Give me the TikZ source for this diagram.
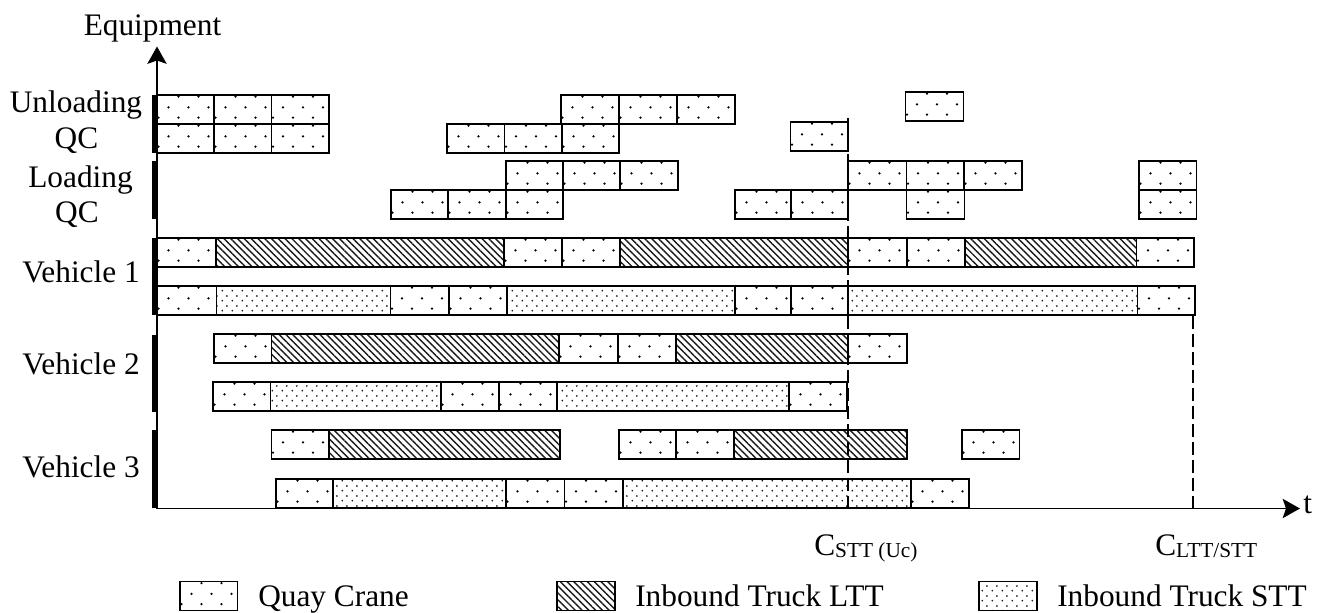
\documentclass[tikz,border=0pt]{standalone}
\usepackage{fontspec}
\setmainfont{Liberation Serif}
\usetikzlibrary{arrows.meta,patterns,patterns.meta}

% dense staggered dots for the short-term trucks
\tikzdeclarepattern{
  name=stt dots,
  type=uncolored,
  bottom left={(0pt,0pt)},
  top right={(7.5pt,7.5pt)},
  tile size={(7.5pt,7.5pt)},
  code={
    \fill (1.875pt,1.875pt) circle (0.75pt);
    \fill (5.625pt,5.625pt) circle (0.75pt);
  }
}

\tikzset{
  cellframe/.style={draw=black, line width=1.3pt},
  qcdot/.style={fill=black},
  lttcell/.style={cellframe, pattern={Lines[angle=-45,distance=3.6pt,line width=1.05pt]}, pattern color=black!90},
  sttcell/.style={cellframe, pattern=stt dots, pattern color=black!90},
  axisline/.style={line width=1pt, -{Stealth[length=13pt,width=14.5pt,inset=2.5pt]}},
  rowmark/.style={fill=black},
  cline/.style={line width=1.2pt, dash pattern=on 10pt off 3.5pt},
  lbl/.style={font=\fontsize{23.5}{28}\selectfont, inner sep=0pt},
}

% quay crane cell: x-left, x-right, y-top (sparse dot texture)
\newcommand\qcCell[3]{%
  \foreach \dx/\dy in {21.5/1.7,41.5/1.7,11.5/12.3,31.5/12.3,51.5/12.3,1.5/22.7,21.5/22.7,41.5/22.7}
    \fill[qcdot] ({#1+\dx},{#3+\dy}) circle (0.95pt);
  \draw[cellframe] (#1,#3) rectangle (#2,{#3+29});
}
% long-term truck bar and short-term truck bar
\newcommand\lttBar[3]{\draw[lttcell] (#1,#3) rectangle (#2,{#3+29});}
\newcommand\sttBar[3]{\draw[sttcell] (#1,#3) rectangle (#2,{#3+29});}

\begin{document}
\begin{tikzpicture}[x=0.75pt,y=-0.75pt]
\useasboundingbox (0,0) rectangle (1335,612);

% ---- unloading QC
\qcCell{157}{214}{95}\qcCell{214}{271.5}{95}\qcCell{271.5}{329}{95}
\qcCell{561}{619}{95}\qcCell{619}{677}{95}\qcCell{677}{735}{95}
\qcCell{905.5}{963.5}{92}
\qcCell{157}{214}{124}\qcCell{214}{271.5}{124}\qcCell{271.5}{329}{124}
\qcCell{447}{504.5}{124}\qcCell{504.5}{562}{124}\qcCell{562}{619}{124}
\qcCell{790.5}{848}{122}

% ---- loading QC
\qcCell{506}{563}{161}\qcCell{563}{620}{161}\qcCell{620}{678}{161}
\qcCell{848}{906.5}{161}\qcCell{906.5}{964}{161}\qcCell{964}{1022}{161}
\qcCell{1139}{1196.5}{161}
\qcCell{391}{448}{190}\qcCell{448}{506}{190}\qcCell{506}{563}{190}
\qcCell{735}{791}{190}\qcCell{791}{848}{190}
\qcCell{906.5}{964.5}{190}
\qcCell{1139}{1196.5}{190}

% ---- vehicle 1
\qcCell{157}{216}{238}\lttBar{216}{504}{238}\qcCell{504}{562}{238}\qcCell{562}{620}{238}
\lttBar{620}{848}{238}\qcCell{848}{907}{238}\qcCell{907}{965}{238}
\lttBar{965}{1136.5}{238}\qcCell{1136.5}{1194}{238}
\qcCell{157}{216.5}{286}\sttBar{216.5}{390.5}{286}\qcCell{390.5}{449}{286}\qcCell{449}{507}{286}
\sttBar{507}{735}{286}\qcCell{735}{791}{286}\qcCell{791}{848}{286}
\sttBar{848}{1137.5}{286}\qcCell{1137.5}{1195}{286}

% ---- vehicle 2
\qcCell{214}{271.5}{334}\lttBar{271.5}{559}{334}\qcCell{559}{618}{334}\qcCell{618}{676}{334}
\lttBar{676}{848}{334}\qcCell{848}{907}{334}
\qcCell{213}{270.5}{382}\sttBar{270.5}{441}{382}\qcCell{441}{499}{382}\qcCell{499}{557}{382}
\sttBar{557}{789}{382}\qcCell{789}{847}{382}

% ---- vehicle 3
\qcCell{271.5}{329}{430}\lttBar{329}{560}{430}
\qcCell{619}{676}{430}\qcCell{676}{734}{430}\lttBar{734}{907}{430}
\qcCell{962}{1019.5}{430}
\qcCell{276}{333}{479}\sttBar{333}{506}{479}\qcCell{506}{564.5}{479}\qcCell{564.5}{623}{479}
\sttBar{623}{911}{479}\qcCell{911}{969}{479}

% ---- axes
\coordinate (origin) at (157,508.5);
\coordinate (ytip) at (157,46.5);
\coordinate (xtip) at (1300,508.5);
\draw[axisline] (origin) -- (ytip);
\draw[axisline] (origin) -- (xtip);

% ---- row markers on the equipment axis
\fill[rowmark] (151.5,95) rectangle (157.5,153);
\fill[rowmark] (151.5,161) rectangle (157.5,219);
\fill[rowmark] (151.5,238) rectangle (157.5,315);
\fill[rowmark] (151.5,335) rectangle (157.5,411.5);
\fill[rowmark] (151.5,430) rectangle (157.5,508);

% ---- completion-time lines
\coordinate (cstt top) at (848,118);
\coordinate (cstt bot) at (848,508.5);
\coordinate (cltt top) at (1193,316);
\coordinate (cltt bot) at (1193,508.5);
\draw[cline] (cstt top) -- (cstt bot);
\draw[cline] (cltt top) -- (cltt bot);

% ---- labels
\node[lbl, anchor=base] (equip) at (152.5,35.7) {Equipment};
\node[lbl, anchor=base west] (tlabel) at (1303,513) {t};
\node[lbl, anchor=base] (unl) at (76,112) {Unloading};
\node[lbl, anchor=base] (unlqc) at (76.5,148) {QC};
\node[lbl, anchor=base] (lod) at (80.5,187) {Loading};
\node[lbl, anchor=base] (lodqc) at (77,222) {QC};
\node[lbl, anchor=base] (veh1) at (81,282) {Vehicle 1};
\node[lbl, anchor=base] (veh2) at (81,374) {Vehicle 2};
\node[lbl, anchor=base] (veh3) at (81,477) {Vehicle 3};
\node[lbl, anchor=base west] (cstt) at (814,555) {C\raisebox{-2.2pt}{\fontsize{16}{16}\selectfont STT (Uc)}};
\node[lbl, anchor=base west] (cltt) at (1155,555) {C\raisebox{-2.2pt}{\fontsize{16}{16}\selectfont LTT/STT}};

% ---- legend
\qcCell{180}{237.5}{581.5}
\lttBar{557}{615}{581.5}
\sttBar{979}{1037}{581.5}
\node[lbl, anchor=base west] (legqc) at (258,606) {Quay Crane};
\node[lbl, anchor=base west] (legltt) at (635,606) {Inbound Truck LTT};
\node[lbl, anchor=base west] (legstt) at (1057,606) {Inbound Truck STT};
\end{tikzpicture}
\end{document}
